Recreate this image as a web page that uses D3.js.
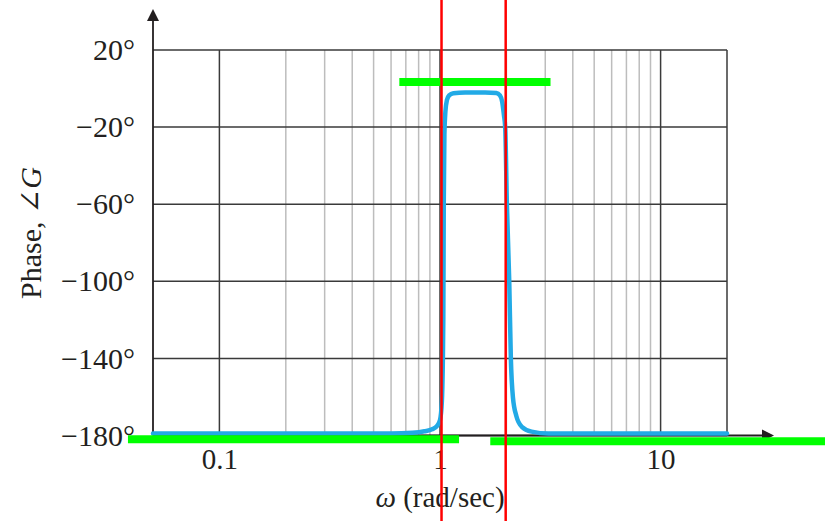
<!DOCTYPE html>
<html>
  <head>
    <meta charset="utf-8">
    <title>Phase plot</title>
    <script src="https://cdn.jsdelivr.net/npm/d3@7"></script>
  </head>

  <style>
    body { margin: 0; background: #fff; }
    text { font-family: "Liberation Serif", "DejaVu Serif", serif; fill: #231f20; }
    .axis .domain { display: none; }
  </style>

  <body>
    <script>

      // phase curve (omega in rad/sec, phase in degrees)
      var omega = [0.05, 0.3, 0.6, 0.75, 0.85, 0.92, 0.97, 1.0, 1.02, 1.035, 1.04, 1.047, 1.058, 1.075, 1.1, 1.15, 1.3,
                   1.6, 1.8, 1.87, 1.915, 1.95, 1.975, 2.01, 2.06, 2.095, 2.14, 2.22, 2.35, 2.6, 3.1, 6, 20];
      var phase = [-179, -179, -179, -178.6, -177.8, -176.8, -175, -172, -162, -120, -60, -24, -12, -6, -3.5, -2.4, -2,
                   -2, -2.3, -3.5, -7, -14, -20, -60, -100, -140, -160, -170, -175.5, -178, -179, -179, -179];

      var xMajor = [0.1, 1, 10];
      var xMinor = [0.2, 0.3, 0.4, 0.5, 0.6, 0.7, 0.8, 0.9, 2, 3, 4, 5, 6, 7, 8, 9];
      var xLabels = ["0.1", "1", "10"];
      var yTicks = [20, -20, -60, -100, -140, -180];

      // marker overlays
      var redOmega = [1.016, 1.985];
      var greenFrom = [0.654, 0.0385, 1.69];
      var greenTo = [3.17, 1.22, 56];
      var greenPhase = [3.4, -182, -183];

      var width = 825,
        height = 521;

      var svg = d3.select("body")
        .append("svg")
        .attr("width", width)
        .attr("height", height);

      var x = d3.scaleLog().domain([0.05, 20]).range([153, 727]);
      var y = d3.scaleLinear().domain([-180, 20]).range([435.5, 50]);

      // minor grid
      svg.selectAll(".minor")
        .data(xMinor)
        .enter()
        .append("line")
        .attr("x1", d => x(d)).attr("x2", d => x(d))
        .attr("y1", y(20)).attr("y2", y(-180))
        .attr("stroke", "#bdbdbd")
        .attr("stroke-width", 1.5);

      // major grid
      svg.selectAll(".major")
        .data(xMajor.concat([20]))
        .enter()
        .append("line")
        .attr("x1", d => x(d)).attr("x2", d => x(d))
        .attr("y1", y(20)).attr("y2", y(-180))
        .attr("stroke", "#3a3a3a")
        .attr("stroke-width", 1.5);

      svg.selectAll(".hgrid")
        .data(yTicks)
        .enter()
        .append("line")
        .attr("x1", x(0.05)).attr("x2", x(20))
        .attr("y1", d => y(d)).attr("y2", d => y(d))
        .attr("stroke", "#3a3a3a")
        .attr("stroke-width", 1.5);

      // axes lines with arrows
      svg.append("line")
        .attr("x1", x(0.05)).attr("x2", x(0.05))
        .attr("y1", 18).attr("y2", y(-180))
        .attr("stroke", "#231f20").attr("stroke-width", 1.8);
      svg.append("path")
        .attr("d", "M" + x(0.05) + ",9 l-6,12 l12,0 z")
        .attr("fill", "#231f20");

      svg.append("line")
        .attr("x1", x(0.05)).attr("x2", 764)
        .attr("y1", y(-180)).attr("y2", y(-180))
        .attr("stroke", "#231f20").attr("stroke-width", 1.8);
      svg.append("path")
        .attr("d", "M774," + y(-180) + " l-12,-6 l0,12 z")
        .attr("fill", "#231f20");

      // tick labels
      var yAxis = svg.append("g")
        .attr("class", "axis")
        .attr("transform", "translate(" + (x(0.05) - 15) + ",0)")
        .call(d3.axisLeft(y).tickValues(yTicks).tickSize(0)
          .tickFormat(d => (d < 0 ? "\u2212" + (-d) : d) + "\u00b0"));
      yAxis.selectAll("text")
        .attr("font-size", 30)
        .attr("font-family", "Liberation Serif")
        .attr("fill", "#231f20");

      var xAxis = svg.append("g")
        .attr("class", "axis")
        .attr("transform", "translate(0," + (y(-180) + 10) + ")")
        .call(d3.axisBottom(x).tickValues(xMajor).tickSize(0)
          .tickFormat((d, i) => xLabels[i]));
      xAxis.selectAll("text")
        .attr("font-size", 29)
        .attr("font-family", "Liberation Serif")
        .attr("fill", "#231f20");

      // axis titles
      var xt = svg.append("text")
        .attr("x", 440)
        .attr("y", 507)
        .attr("text-anchor", "middle")
        .attr("font-size", 29);
      xt.append("tspan").attr("font-style", "italic").text("\u03c9");
      xt.append("tspan").text(" (rad/sec)");

      var yt = svg.append("text")
        .attr("transform", "translate(41,233) rotate(-90)")
        .attr("text-anchor", "middle")
        .attr("font-size", 30);
      yt.append("tspan").text("Phase, \u2220");
      yt.append("tspan").attr("font-style", "italic").text("G");

      // phase curve
      var pts = omega.map((w, i) => [w, phase[i]]);
      var line = d3.line()
        .x(d => x(d[0]))
        .y(d => y(d[1]))
        .curve(d3.curveMonotoneX);

      svg.append("path")
        .datum(pts)
        .attr("d", line)
        .attr("fill", "none")
        .attr("stroke", "#22aae6")
        .attr("stroke-width", 4.5)
        .attr("stroke-linejoin", "round")
        .attr("stroke-linecap", "round");

      // green markers
      svg.selectAll(".green")
        .data(greenPhase)
        .enter()
        .append("line")
        .attr("x1", (d, i) => x(greenFrom[i]))
        .attr("x2", (d, i) => x(greenTo[i]))
        .attr("y1", d => y(d)).attr("y2", d => y(d))
        .attr("stroke", "#00ff00")
        .attr("stroke-width", 8);

      // red markers
      svg.selectAll(".red")
        .data(redOmega)
        .enter()
        .append("line")
        .attr("x1", d => x(d)).attr("x2", d => x(d))
        .attr("y1", 0).attr("y2", height)
        .attr("stroke", "#ff0000")
        .attr("stroke-width", 2.5);

    </script>
  </body>
</html>
